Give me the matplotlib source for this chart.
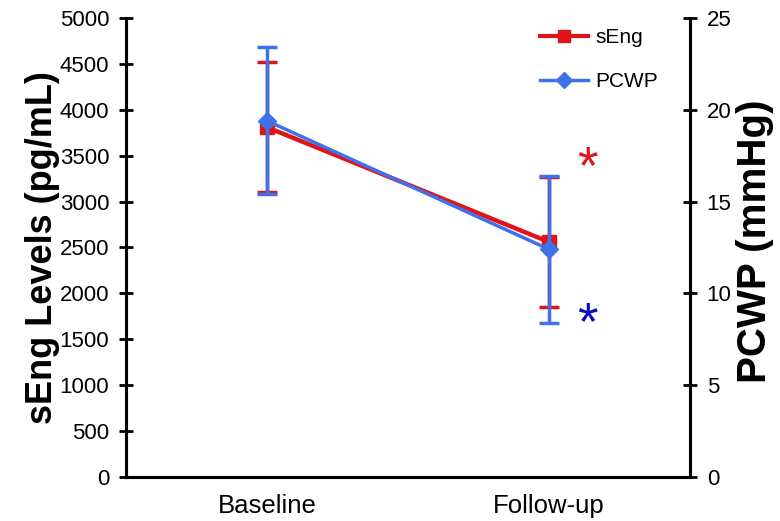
import numpy as np
import matplotlib.pyplot as plt
from matplotlib.lines import Line2D

plt.rcParams['font.family'] = ['Liberation Sans', 'DejaVu Sans']

# 数据
groups = ['Baseline', 'Follow-up']
seng_mean = [3810, 2560]
seng_err = [710, 710]
pcwp_mean = [19.4, 12.4]
pcwp_err = [4.0, 4.0]

red = '#e01418'
blue = '#3f72e8'

fig = plt.figure(figsize=(7.8, 5.21), dpi=100)
ax = fig.add_axes([0.1615, 0.0845, 0.7231, 0.881])
ax2 = ax.twinx()

x = np.arange(len(groups))
ax.errorbar(x, seng_mean, yerr=seng_err, color=red, lw=3.2, marker='s', ms=10,
            elinewidth=2.5, capsize=7, capthick=2.5)
ax2.errorbar(x, pcwp_mean, yerr=pcwp_err, color=blue, lw=2.5, marker='D', ms=9,
             elinewidth=2.5, capsize=7, capthick=2.5)

ax.set_xlim(-0.5, 1.5)
ax.set_ylim(0, 5000)
ax2.set_ylim(0, 25)
ax.set_yticks(np.arange(0, 5001, 500))
ax2.set_yticks(np.arange(0, 26, 5))
ax.set_xticks(x)
ax.set_xticklabels(groups, fontsize=18.5)

for a in (ax, ax2):
    a.spines['top'].set_visible(False)
    for s in a.spines.values():
        s.set_linewidth(2.2)
    a.tick_params(axis='y', direction='inout', length=10, width=2, labelsize=16, pad=7)
ax.tick_params(axis='x', length=0, pad=12)

ax.set_ylabel('sEng Levels (pg/mL)', fontsize=26, fontweight='bold', labelpad=0)
ax2.set_ylabel('PCWP (mmHg)', fontsize=29, fontweight='bold')
ax2.yaxis.set_label_coords(1.082, 0.514)

# 显著性星号
ax.text(1.135, 3355, '*', color=red, fontsize=38, ha='center', va='center')
ax.text(1.135, 1655, '*', color='#0a0ac8', fontsize=38, ha='center', va='center')

h1 = Line2D([], [], color=red, lw=3, marker='s', ms=9)
h2 = Line2D([], [], color=blue, lw=2.5, marker='D', ms=8)
ax2.legend([h1, h2], ['sEng', 'PCWP'], loc='upper left', bbox_to_anchor=(0.734, 0.978),
           frameon=False, fontsize=15, handlelength=2.3, handletextpad=0.35,
           labelspacing=1.2, borderpad=0, borderaxespad=0)

fig.savefig('out.png', dpi=100)
